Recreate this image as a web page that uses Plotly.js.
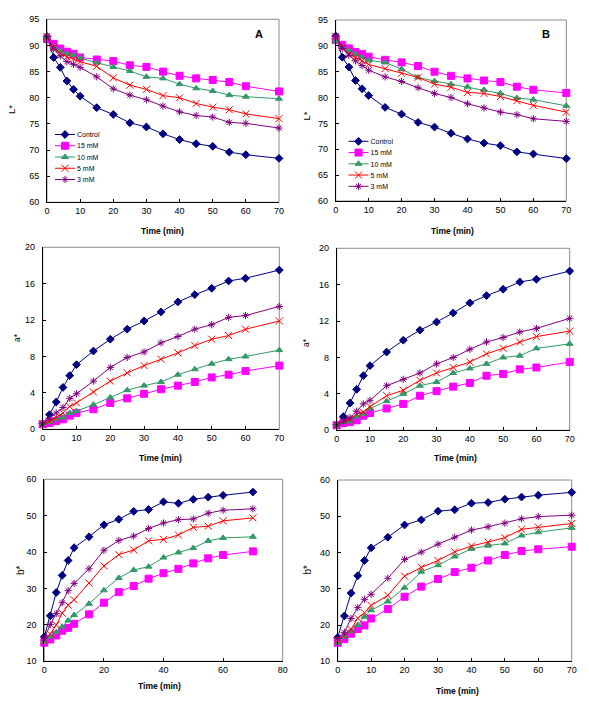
<!DOCTYPE html>
<html>
<head>
<meta charset="utf-8">
<script src="https://cdn.plot.ly/plotly-3.0.1.min.js"></script>
<style>
    body { margin: 0; background: #fff; }
    #plot { width: 589px; height: 702px; }
</style>
</head>
<body>
<div id="plot"></div>
<script>
// sampling times (min), shared by every panel
let time = [0, 2, 4, 6, 8, 10, 15, 20, 25, 30, 35, 40, 45, 50, 55, 60, 70];

// L* – panel A
let L_ctrl_A = [91.7, 87.7, 85.8, 83.2, 81.6, 80.3, 78.1, 76.8, 75.2, 74.4, 73.1, 72.0, 71.2, 70.7, 69.6, 69.1, 68.4];
let L_15_A = [91.2, 90.3, 89.4, 88.8, 88.4, 87.7, 87.3, 87.0, 86.2, 85.9, 85.0, 84.2, 83.7, 83.4, 83.0, 82.2, 81.2];
let L_10_A = [91.7, 89.7, 89.0, 88.4, 88.2, 87.6, 86.7, 85.9, 85.1, 84.0, 83.7, 82.6, 81.8, 81.3, 80.5, 80.2, 79.8];
let L_5_A = [91.7, 89.6, 88.5, 87.8, 87.4, 86.9, 86.0, 83.8, 82.4, 81.6, 80.4, 80.0, 78.9, 78.2, 77.7, 76.9, 76.0];
let L_3_A = [91.7, 89.3, 88.0, 86.9, 86.4, 85.8, 84.0, 81.7, 80.5, 79.6, 78.4, 77.3, 76.6, 76.3, 75.3, 75.1, 74.2];

// L* – panel B
let L_ctrl_B = [91.9, 87.8, 85.9, 83.3, 81.7, 80.4, 78.1, 76.8, 75.2, 74.3, 73.1, 72.0, 71.2, 70.7, 69.5, 69.1, 68.2];
let L_15_B = [91.1, 90.2, 89.5, 88.8, 88.4, 87.9, 87.3, 86.8, 86.1, 85.0, 84.2, 83.7, 83.3, 83.0, 82.1, 81.5, 80.9];
let L_10_B = [90.9, 89.7, 89.1, 88.4, 87.8, 87.2, 86.8, 85.5, 83.9, 83.2, 82.6, 82.1, 81.5, 80.8, 79.9, 79.6, 78.4];
let L_5_B = [91.8, 89.7, 88.4, 87.8, 87.1, 86.4, 85.6, 84.7, 83.9, 82.6, 82.0, 81.0, 80.8, 80.2, 79.4, 78.5, 77.2];
let L_3_B = [91.9, 89.5, 88.2, 87.1, 86.2, 85.3, 84.0, 83.1, 81.9, 80.8, 80.0, 78.8, 78.0, 77.2, 76.7, 75.9, 75.4];

// a* – panel A
let a_ctrl_A = [0.6, 1.6, 3.0, 4.6, 5.9, 7.1, 8.6, 9.9, 11.0, 11.9, 12.9, 14.0, 14.8, 15.5, 16.3, 16.6, 17.5];
let a_15_A = [0.55, 0.7, 0.9, 1.1, 1.5, 1.8, 2.2, 2.9, 3.4, 3.9, 4.4, 4.8, 5.2, 5.7, 6.0, 6.4, 7.0];
let a_10_A = [0.6, 0.8, 1.1, 1.3, 1.8, 2.0, 2.7, 3.5, 4.3, 4.8, 5.2, 6.0, 6.6, 7.2, 7.7, 8.0, 8.7];
let a_5_A = [0.6, 0.9, 1.3, 1.8, 2.5, 2.9, 4.1, 5.3, 6.2, 7.0, 7.7, 8.4, 9.2, 9.9, 10.3, 11.0, 11.9];
let a_3_A = [0.6, 1.2, 1.8, 2.4, 3.4, 3.9, 5.3, 6.8, 7.9, 8.5, 9.5, 10.2, 11.0, 11.5, 12.3, 12.5, 13.5];

// a* – panel B
let a_ctrl_B = [0.6, 1.5, 3.0, 4.5, 6.0, 7.1, 8.6, 9.9, 11.0, 11.9, 12.9, 14.0, 14.8, 15.5, 16.3, 16.6, 17.5];
let a_15_B = [0.55, 0.8, 0.9, 1.1, 1.6, 1.9, 2.4, 2.9, 3.8, 4.3, 4.8, 5.2, 6.0, 6.2, 6.7, 6.9, 7.5];
let a_10_B = [0.6, 0.9, 1.0, 1.5, 1.8, 2.4, 3.2, 4.0, 4.9, 5.3, 6.3, 6.8, 7.3, 8.0, 8.2, 9.0, 9.5];
let a_5_B = [0.6, 1.0, 1.2, 1.8, 2.0, 2.6, 3.8, 4.4, 5.5, 6.3, 6.9, 7.5, 8.4, 9.0, 9.7, 10.3, 10.9];
let a_3_B = [0.6, 1.0, 1.4, 2.1, 2.9, 3.3, 4.9, 5.6, 6.3, 7.3, 8.0, 8.9, 9.7, 10.2, 10.8, 11.2, 12.3];

// b* – panel A
let b_ctrl_A = [16.7, 22.5, 28.9, 33.6, 37.7, 41.2, 44.2, 47.5, 49.0, 51.2, 51.7, 53.8, 53.4, 54.5, 55.1, 55.6, 56.5];
let b_15_A = [15.1, 16.0, 17.1, 18.4, 19.2, 20.3, 22.9, 26.1, 29.0, 30.7, 32.7, 34.2, 35.4, 36.9, 38.3, 39.2, 40.2];
let b_10_A = [15.4, 16.8, 18.0, 19.5, 21.2, 22.7, 25.8, 29.5, 32.9, 35.1, 36.0, 38.5, 39.9, 41.1, 43.1, 43.9, 44.2];
let b_5_A = [15.7, 17.5, 20.0, 23.2, 25.4, 26.9, 31.5, 36.2, 39.3, 40.6, 43.1, 43.5, 44.7, 46.8, 47.1, 48.6, 49.4];
let b_3_A = [16.3, 20.1, 23.1, 26.1, 29.4, 31.4, 35.4, 40.5, 43.2, 44.4, 46.5, 48.0, 48.9, 49.1, 50.7, 51.5, 51.9];

// b* – panel B
let b_ctrl_B = [16.6, 22.5, 28.8, 33.6, 37.8, 41.3, 44.2, 47.6, 49.0, 51.4, 51.8, 53.6, 53.8, 54.7, 55.3, 55.8, 56.6];
let b_15_B = [15.1, 16.1, 17.6, 18.9, 19.9, 21.8, 24.4, 27.8, 30.6, 32.7, 34.6, 35.8, 37.8, 39.3, 40.4, 40.9, 41.6];
let b_10_B = [15.1, 16.8, 18.4, 20.0, 22.3, 24.1, 26.5, 30.3, 34.7, 36.5, 38.9, 41.0, 41.9, 42.5, 44.7, 45.6, 46.8];
let b_5_B = [15.7, 17.1, 18.8, 21.9, 23.4, 25.4, 28.2, 33.5, 35.9, 37.8, 40.2, 41.8, 42.9, 44.1, 46.4, 47.0, 48.0];
let b_3_B = [16.3, 18.0, 21.8, 24.8, 27.1, 28.5, 32.9, 38.1, 40.1, 42.3, 44.2, 46.2, 47.1, 48.1, 49.3, 49.9, 50.3];

let names = ['Control', '15 mM', '10 mM', '5 mM', '3 mM'];
let colours = ['#000080', '#ff00ff', '#339966', '#ff0000', '#800080'];
let symbols = ['diamond', 'square', 'triangle-up', 'x-thin-open', 'asterisk-open'];
let sizes = [6, 7, 6, 7, 6];

let W = 589, H = 702;
let font = 'Liberation Sans, Arial, sans-serif';

// pixel boxes of the six plot areas: [left, right, top, bottom]
let panels = [
    {series: [L_ctrl_A, L_15_A, L_10_A, L_5_A, L_3_A], box: [47, 279, 19.3, 202.3], x: [0, 70, 10], y: [60, 95, 5]},
    {series: [L_ctrl_B, L_15_B, L_10_B, L_5_B, L_3_B], box: [335.7, 566.3, 20, 201], x: [0, 70, 10], y: [60, 95, 5]},
    {series: [a_ctrl_A, a_15_A, a_10_A, a_5_A, a_3_A], box: [42.7, 279.3, 247.3, 429.3], x: [0, 70, 10], y: [0, 20, 4]},
    {series: [a_ctrl_B, a_15_B, a_10_B, a_5_B, a_3_B], box: [336.7, 569.7, 248.3, 430.3], x: [0, 70, 10], y: [0, 20, 4]},
    {series: [b_ctrl_A, b_15_A, b_10_A, b_5_A, b_3_A], box: [44.3, 282.7, 479.3, 661.3], x: [0, 80, 20], y: [10, 60, 10]},
    {series: [b_ctrl_B, b_15_B, b_10_B, b_5_B, b_3_B], box: [337.7, 571.7, 480, 661.3], x: [0, 70, 10], y: [10, 60, 10]}
];

function axis(r, domain, anchor, standoff) {
    return {
        range: [r[0], r[1]],
        dtick: r[2],
        tick0: r[0],
        domain: domain,
        anchor: anchor,
        showgrid: false,
        zeroline: false,
        showline: true,
        linecolor: '#000',
        linewidth: 1,
        ticks: 'inside',
        ticklen: 3,
        tickcolor: '#000',
        ticklabelstandoff: standoff,
        tickfont: {family: font, size: 9, color: '#000'},
        fixedrange: true
    };
}

function note(text, x, y, size, opts) {
    opts = opts || {};
    return {
        text: text,
        xref: 'paper', yref: 'paper',
        x: x / W, y: 1 - y / H,
        xanchor: 'center', yanchor: 'middle',
        showarrow: false,
        textangle: opts.angle || 0,
        font: {family: font, size: size, color: '#000', weight: opts.bold ? 'bold' : 'normal'}
    };
}

let data = [];
let layout = {
    width: W,
    height: H,
    margin: {l: 0, r: 0, t: 0, b: 0},
    paper_bgcolor: '#fff',
    plot_bgcolor: '#fff',
    showlegend: true,
    shapes: [],
    annotations: [],
    legend: {
        x: 45 / W, y: 1 - 124 / H, xanchor: 'left', yanchor: 'top',
        bgcolor: 'rgba(0,0,0,0)', font: {family: font, size: 7, color: '#000'}
    },
    legend2: {
        x: 338.5 / W, y: 1 - 131 / H, xanchor: 'left', yanchor: 'top',
        bgcolor: 'rgba(0,0,0,0)', font: {family: font, size: 7, color: '#000'}
    }
};

panels.forEach((p, i) => {
    let s = i === 0 ? '' : String(i + 1);
    let b = p.box;
    layout['xaxis' + s] = axis(p.x, [b[0] / W, b[1] / W], 'y' + s, 0);
    layout['yaxis' + s] = axis(p.y, [1 - b[3] / H, 1 - b[2] / H], 'x' + s, 5);

    // grey plot-area border; the black axes sit on top of it
    layout.shapes.push({
        type: 'rect', xref: 'x' + s + ' domain', yref: 'y' + s + ' domain',
        x0: 0, x1: 1, y0: 0, y1: 1,
        line: {color: '#8c8c8c', width: 1}, layer: 'below'
    });

    p.series.forEach((vals, j) => {
        data.push({
            type: 'scatter',
            mode: 'lines+markers',
            x: time,
            y: vals,
            xaxis: 'x' + s,
            yaxis: 'y' + s,
            name: names[j],
            cliponaxis: false,
            showlegend: i < 2,
            legend: i === 1 ? 'legend2' : 'legend',
            line: {color: colours[j], width: 1},
            marker: {symbol: symbols[j], size: sizes[j], color: colours[j], line: {color: colours[j], width: 1}}
        });
    });
});

layout.annotations.push(
    note('A', 259, 34, 11, {bold: true}),
    note('B', 546, 34, 11, {bold: true}),
    note('L*', 12, 110, 9.5, {angle: -90}),
    note('L*', 306.5, 116, 9.5, {angle: -90}),
    note('a*', 17, 338, 8.5, {angle: -90}),
    note('a*', 306, 343, 8.5, {angle: -90}),
    note('b*', 20, 570, 10, {angle: -90}),
    note('b*', 306.5, 570, 10, {angle: -90}),
    note('Time (min)', 162, 231, 8.5, {bold: true}),
    note('Time (min)', 452, 231, 8.5, {bold: true}),
    note('Time (min)', 160, 458, 8.5, {bold: true}),
    note('Time (min)', 455, 458, 8.5, {bold: true}),
    note('Time (min)', 159.5, 686, 8.5, {bold: true}),
    note('Time (min)', 457, 691, 8.5, {bold: true})
);

// Plotly keeps legend rows at least 19px apart; the original packs them at ~11px
// with short key lines, so place the two legends by hand after drawing.
// [left of key, centre of first row] in page pixels
let spots = [[45, 134.5], [338.5, 141.3]];

function tidyLegends() {
    let host = document.getElementById('plot').getBoundingClientRect();
    document.querySelectorAll('g.legend, g.legend2').forEach((lg) => {
        let k = lg.classList.contains('legend2') ? 1 : 0;
        lg.setAttribute('transform', 'translate(' + spots[k][0] + ',' + (spots[k][1] - 10) + ')');
        let box = lg.querySelector('g.scrollbox');
        if (box) box.setAttribute('transform', 'translate(0,0)');
        lg.querySelectorAll('g.traces').forEach((g, i) => {
            g.setAttribute('transform', 'translate(0,' + (10 + 11.25 * i) + ')');
            g.querySelectorAll('path.js-line').forEach(pth => pth.setAttribute('d', 'M10,0h20'));
            // the text class differs between legends, so take any text and shift it by measurement
            g.querySelectorAll('text').forEach(txt => {
                let have = txt.getBoundingClientRect().left - host.left;
                let want = spots[k][0] + 32;
                let shift = txt.ownerSVGElement.createSVGTransform();
                shift.setTranslate(want - have, 0);
                txt.transform.baseVal.insertItemBefore(shift, 0);
            });
        });
    });
}

let gd = document.getElementById('plot');
Plotly.newPlot(gd, data, layout, {staticPlot: true}).then(tidyLegends);
</script>
</body>
</html>
